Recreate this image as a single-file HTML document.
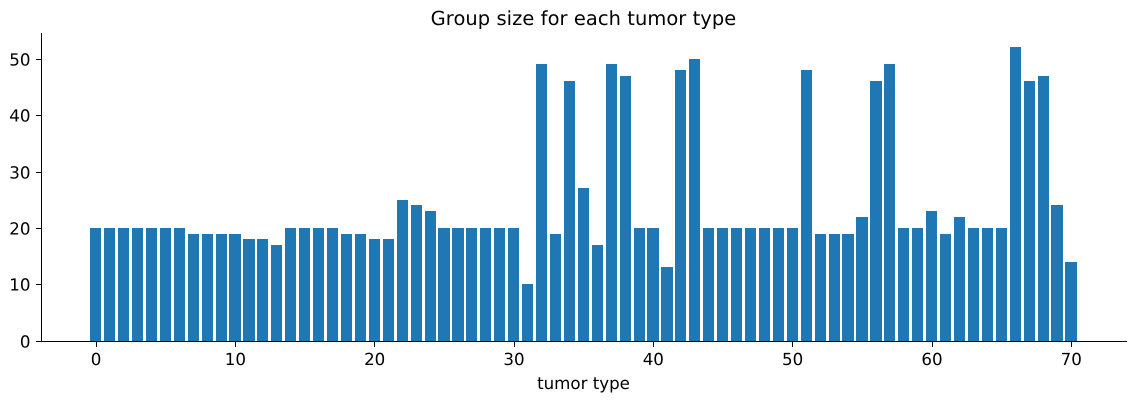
<!DOCTYPE html>
<html lang="en">
<head>
<meta charset="utf-8">
<title>Group size for each tumor type</title>
<style>
html,body{margin:0;padding:0;background:#fff;width:1135px;height:402px;overflow:hidden}
svg{display:block}
text{font-family:"DejaVu Sans","Liberation Sans",sans-serif;fill:#000;text-rendering:geometricPrecision}
</style>
</head>
<body>
<svg id="chart" xmlns="http://www.w3.org/2000/svg" width="1135" height="402" viewBox="0 0 1135 402">
<text id="title" x="583.5" y="25" font-size="19.44" letter-spacing="0.07" text-anchor="middle">Group size for each tumor type</text>
<text id="xlabel" x="583.5" y="389" font-size="16.67" text-anchor="middle">tumor type</text>
<g id="bars"></g>
<g id="x-ticks"></g>
<g id="y-ticks"></g>
<rect x="41" y="33" width="1" height="309" fill="#000"/>
<rect x="41" y="341" width="1086" height="1" fill="#000"/>
</svg>
<script>
const categories = [0,1,2,3,4,5,6,7,8,9,10,11,12,13,14,15,16,17,18,19,20,21,22,23,24,25,26,27,28,29,30,31,32,33,34,35,36,37,38,39,40,41,42,43,44,45,46,47,48,49,50,51,52,53,54,55,56,57,58,59,60,61,62,63,64,65,66,67,68,69,70];
const groupSizes = [20,20,20,20,20,20,20,19,19,19,19,18,18,17,20,20,20,20,19,19,18,18,25,24,23,20,20,20,20,20,20,10,49,19,46,27,17,49,47,20,20,13,48,50,20,20,20,20,20,20,20,48,19,19,19,22,46,49,20,20,23,19,22,20,20,20,52,46,47,24,14];
const xTickValues = [0,10,20,30,40,50,60,70];
const yTickValues = [0,10,20,30,40,50];

const NS = 'http://www.w3.org/2000/svg';
function xScale(v) { return 95.74 + 13.932 * v; }
function yScale(v) { return 340.7 - 5.64 * v; }
function snap(p) { return Math.round(p); }
function make(tag, attrs) {
  const el = document.createElementNS(NS, tag);
  for (const k in attrs) el.setAttribute(k, attrs[k]);
  return el;
}

const barsGroup = document.getElementById('bars');
categories.forEach(function (c, i) {
  const x0 = snap(xScale(c - 0.4));
  const x1 = snap(xScale(c + 0.4));
  const y0 = snap(yScale(groupSizes[i]));
  const y1 = snap(yScale(0));
  const bar = make('rect', {x: x0, y: y0, width: x1 - x0, height: y1 - y0, fill: '#1f77b4'});
  
  
  barsGroup.appendChild(bar);
});

const xTicksGroup = document.getElementById('x-ticks');
xTickValues.forEach(function (t) {
  const px = xScale(t);
  const tick = make('rect', {x: Math.floor(px + 0.5), y: 342, width: 1, height: 5, fill: '#000'});
  
  
  xTicksGroup.appendChild(tick);
  const label = make('text', {x: px + 0.3, y: 365, 'font-size': 16.67, 'text-anchor': 'middle'});
  
  
  label.textContent = String(t);
  xTicksGroup.appendChild(label);
});

const yTicksGroup = document.getElementById('y-ticks');
yTickValues.forEach(function (t) {
  const py = snap(yScale(t));
  const tick = make('rect', {x: 36, y: py, width: 5, height: 1, fill: '#000'});
  
  
  yTicksGroup.appendChild(tick);
  const label = make('text', {x: 30.5, y: py + 6.5, 'font-size': 16.67, 'text-anchor': 'end'});
  
  
  label.textContent = String(t);
  yTicksGroup.appendChild(label);
});
</script>
</body>
</html>
